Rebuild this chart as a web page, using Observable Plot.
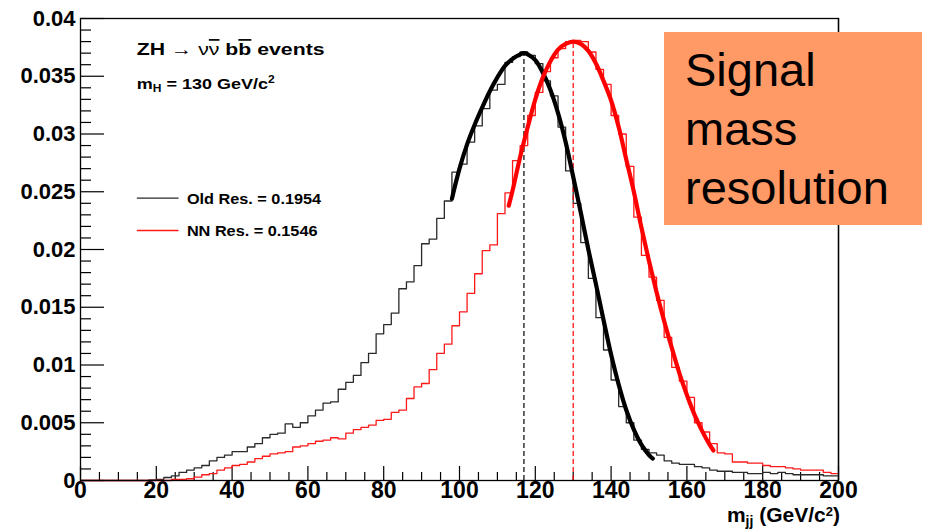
<!DOCTYPE html>
<html>
<head>
<meta charset="utf-8">
<script src="https://cdn.jsdelivr.net/npm/d3@7"></script>
<script src="https://cdn.jsdelivr.net/npm/@observablehq/plot@0.6"></script>
<style>
  html, body { margin: 0; padding: 0; background: #fff; }
  #wrap { position: relative; width: 926px; height: 531px; overflow: hidden; font-family: "Liberation Sans", Arial, sans-serif; }
  #note { position: absolute; left: 664px; top: 32px; width: 258px; height: 193px; background: #FF9966;
          box-sizing: border-box; padding: 8px 0 0 21px; font-family: "Liberation Sans", Arial, sans-serif;
          font-size: 47px; line-height: 59px; color: #000; }
</style>
</head>
<body>
<div id="wrap"></div>
<script>
// ---- data ----
const binLow = [0,2,4,6,8,10,12,14,16,18,20,22,24,26,28,30,32,34,36,38,40,42,44,46,48,50,52,54,56,58,60,62,64,66,68,70,72,74,76,78,80,82,84,86,88,90,92,94,96,98,100,102,104,106,108,110,112,114,116,118,120,122,124,126,128,130,132,134,136,138,140,142,144,146,148,150,152,154,156,158,160,162,164,166,168,170,172,174,176,178,180,182,184,186,188,190,192,194,196,198];
const histEnd = 200;

// Old resolution histogram (black)
const oldRes = [0,0,0,0,0,0,0,0,0,0.00005,0.0001,0.00026,0.0004,0.0007,0.0009,0.0011,0.0013,0.0017,0.0020,0.0022,
  0.0025,0.0025,0.0029,0.0032,0.0037,0.0040,0.0041,0.0049,0.0046,0.0050,0.0056,0.0061,0.0067,0.0068,0.0079,0.0085,0.0091,0.0102,0.0110,0.0127,
  0.0135,0.0145,0.0166,0.0172,0.0186,0.0205,0.0209,0.0227,0.0242,0.0267,0.0274,0.0293,0.0307,0.0322,0.0338,0.0343,0.0362,0.0367,0.0371,0.0368,
  0.0361,0.0346,0.0333,0.0306,0.0268,0.0240,0.0206,0.0175,0.0141,0.0113,0.0087,0.0064,0.0050,0.0035,0.0027,0.0024,0.0022,0.0017,0.0015,0.0014,
  0.0014,0.0012,0.0011,0.0009,0.0008,0.0008,0.0007,0.0007,0.0006,0.0006,0.0007,0.0006,0.0007,0.0006,0.0005,0.0005,0.0005,0.0005,0.0004,0.0004];

// NN resolution histogram (red)
const nnRes = [0,0,0,0,0,0,0,0,0,0,0,0,0.0001,0.0001,0.00015,0.0003,0.0005,0.0006,0.0009,0.0011,
  0.0013,0.0014,0.0016,0.0019,0.0021,0.0023,0.0024,0.0025,0.0029,0.0030,0.0032,0.0034,0.0035,0.0037,0.0036,0.0041,0.0044,0.0046,0.0048,0.0052,
  0.0053,0.0059,0.0061,0.0071,0.0081,0.0084,0.0096,0.0110,0.0118,0.0134,0.0146,0.0162,0.0179,0.0199,0.0204,0.0231,0.0249,0.0277,0.0290,0.0316,
  0.0336,0.0354,0.0366,0.0374,0.0380,0.0381,0.0380,0.0371,0.0356,0.0343,0.0316,0.0300,0.0272,0.0228,0.0195,0.0176,0.0156,0.0124,0.0098,0.0086,
  0.0072,0.0050,0.0042,0.0032,0.0024,0.0023,0.0016,0.0016,0.0015,0.0015,0.0013,0.0012,0.0012,0.0011,0.0010,0.0009,0.0009,0.0009,0.0007,0.0006];

// fitted curves
const oldFitX = [98,100,102,104,106,108,110,112,114,116,117,118,120,122,124,126,128,130,132,134,136,138,140,142,144,146,148,150,151];
const oldFitY = [0.0244,0.0270,0.0291,0.0308,0.0323,0.0337,0.0349,0.0359,0.0365,0.0369,0.0370,0.0369,0.0364,0.0353,0.0338,0.0318,0.0293,0.0263,0.0232,0.0200,0.0170,0.0139,0.0109,0.0083,0.0061,0.0044,0.0031,0.0022,0.0019];
const nnFitX = [113,114,116,118,120,122,124,126,128,130,132,134,136,138,140,142,144,146,148,150,152,154,156,158,160,162,164,166,167];
const nnFitY = [0.0238,0.0251,0.0280,0.0306,0.0330,0.0349,0.0363,0.0373,0.0378,0.0380,0.0378,0.0372,0.0361,0.0346,0.0329,0.0306,0.0278,0.0250,0.0219,0.0190,0.0163,0.0138,0.0115,0.0093,0.0074,0.0057,0.0043,0.0031,0.0026];

// fitted means (dashed markers)
const meanX = [117, 130];
const meanPeak = [0.0370, 0.0380];
const seriesColor = ["#000000", "#ff0000"];
const histColor = ["#2a2a2a", "#ff1a1a"];

// axes
const xMajor = [0,20,40,60,80,100,120,140,160,180,200];
const xTickLabels = ["0","20","40","60","80","100","120","140","160","180","200"];
const xMinor = [5,10,15,25,30,35,45,50,55,65,70,75,85,90,95,105,110,115,125,130,135,145,150,155,165,170,175,185,190,195];
const yMajor = [0,0.005,0.01,0.015,0.02,0.025,0.03,0.035,0.04];
const yTickLabels = ["0","0.005","0.01","0.015","0.02","0.025","0.03","0.035","0.04"];
const yMinor = [0.001,0.002,0.003,0.004,0.006,0.007,0.008,0.009,0.011,0.012,0.013,0.014,0.016,0.017,0.018,0.019,
  0.021,0.022,0.023,0.024,0.026,0.027,0.028,0.029,0.031,0.032,0.033,0.034,0.036,0.037,0.038,0.039];

// texts
const legendLabels = ["Old Res. = 0.1954", "NN Res. = 0.1546"];
const legendY = [0.0244, 0.0216];
const legendLineX = [15, 26];
const legendTextX = 28.2;
const infoPos = {x: 15, y1: 0.0368, y2: 0.03385};
const noteLines = ["Signal", "mass", "resolution"];

// ---- build tables ----
const histTable = (vals, name) => binLow.map((x, i) => ({x, y: vals[i], s: name}))
  .concat([{x: histEnd, y: vals[vals.length - 1], s: name}]);
const oldHist = histTable(oldRes, "old");
const nnHist = histTable(nnRes, "nn");
const oldFit = oldFitX.map((x, i) => ({x, y: oldFitY[i]}));
const nnFit = nnFitX.map((x, i) => ({x, y: nnFitY[i]}));
const means = meanX.map((x, i) => ({x, y: meanPeak[i], c: seriesColor[i]}));

const font = "Liberation Sans, Arial, Helvetica, sans-serif";

const plot = Plot.plot({
  width: 926,
  height: 531,
  marginLeft: 80,
  marginRight: 88,
  marginTop: 18,
  marginBottom: 51,
  x: {domain: [0, 200]},
  y: {domain: [0, 0.04]},
  style: {fontFamily: font, background: "white", overflow: "visible", color: "#000"},
  marks: [
    Plot.axisY(yMinor, {tickSize: -11, tickFormat: () => "", label: null, strokeWidth: 1.2}),
    Plot.axisY(yMajor, {tickSize: -24, tickPadding: 29, tickFormat: (d) => yTickLabels[yMajor.indexOf(d)],
      label: null, fontSize: 22, fontWeight: "bold", strokeWidth: 1.2}),
    Plot.axisX(xMinor, {tickSize: -8, tickFormat: () => "", label: null, strokeWidth: 1.2}),
    Plot.axisX(xMajor, {tickSize: -14, tickPadding: 15, tickFormat: (d) => xTickLabels[xMajor.indexOf(d)],
      label: null, fontSize: 23, fontWeight: "bold", strokeWidth: 1.2}),
    Plot.line(oldHist, {x: "x", y: "y", curve: "step-after", stroke: histColor[0], strokeWidth: 1.3}),
    Plot.line(nnHist, {x: "x", y: "y", curve: "step-after", stroke: histColor[1], strokeWidth: 1.3}),
    Plot.ruleX(means, {x: "x", y1: 0, y2: "y", stroke: "c", strokeDasharray: "5,3", strokeWidth: 1.2}),
    Plot.line(oldFit, {x: "x", y: "y", curve: "catmull-rom", stroke: seriesColor[0], strokeWidth: 4.2}),
    Plot.line(nnFit, {x: "x", y: "y", curve: "catmull-rom", stroke: seriesColor[1], strokeWidth: 4.2}),
    Plot.ruleX([200], {stroke: "#666", strokeWidth: 1.5}),
    Plot.frame({stroke: "#000", strokeWidth: 1.3})
  ]
});

document.getElementById("wrap").appendChild(plot);

// ---- rich-text annotations placed through the plot's scales ----
const sx = plot.scale("x"), sy = plot.scale("y");
const svg = d3.select(plot);
const g = svg.append("g").attr("font-family", font).attr("fill", "#000").attr("text-anchor", "start");

// Title line: ZH -> nu nubar b bbar events (ROOT text is horizontally stretched)
const t1 = g.append("text")
  .attr("transform", `translate(${sx.apply(infoPos.x)},${sy.apply(infoPos.y1)}) scale(1.25,1)`)
  .attr("font-size", 17).attr("font-weight", "bold");
t1.append("tspan").text("ZH ");
t1.append("tspan").attr("font-weight", "normal").text("\u2192 \u03bd");
t1.append("tspan").attr("font-weight", "normal").style("text-decoration", "overline").text("\u03bd");
t1.append("tspan").text(" b");
t1.append("tspan").style("text-decoration", "overline").text("b");
t1.append("tspan").text(" events");

// m_H = 130 GeV/c^2
const t2 = g.append("text")
  .attr("transform", `translate(${sx.apply(infoPos.x)},${sy.apply(infoPos.y2)}) scale(1.2,1)`)
  .attr("font-size", 15).attr("font-weight", "bold");
t2.append("tspan").text("m");
t2.append("tspan").attr("font-size", 10).attr("dy", 3).text("H");
t2.append("tspan").attr("dy", -3).text(" = 130 GeV/c");
t2.append("tspan").attr("font-size", 10).attr("dy", -6).text("2");

// legend
legendLabels.forEach((lab, i) => {
  const yy = sy.apply(legendY[i]);
  g.append("line")
    .attr("x1", sx.apply(legendLineX[0])).attr("x2", sx.apply(legendLineX[1]))
    .attr("y1", yy).attr("y2", yy)
    .attr("stroke", histColor[i]).attr("stroke-width", 1.3);
  g.append("text")
    .attr("transform", `translate(${sx.apply(legendTextX)},${yy}) scale(1.05,1)`)
    .attr("dy", "0.36em")
    .attr("font-size", 15.5).attr("font-weight", "bold").text(lab);
});

// x-axis title: m_jj (GeV/c^2)
const xt = g.append("text")
  .attr("x", sx.apply(200) + 2).attr("y", sy.apply(0) + 42)
  .attr("text-anchor", "end").attr("font-size", 21).attr("font-weight", "bold");
xt.append("tspan").text("m");
xt.append("tspan").attr("font-size", 14).attr("dy", 4).text("jj");
xt.append("tspan").attr("dy", -4).text(" (GeV/c");
xt.append("tspan").attr("font-size", 13).attr("dy", -6).text("2");
xt.append("tspan").attr("dy", 6).text(")");

// orange note box
const note = document.createElement("div");
note.id = "note";
note.innerHTML = noteLines.map(s => `<div>${s}</div>`).join("");
document.getElementById("wrap").appendChild(note);
</script>
</body>
</html>
